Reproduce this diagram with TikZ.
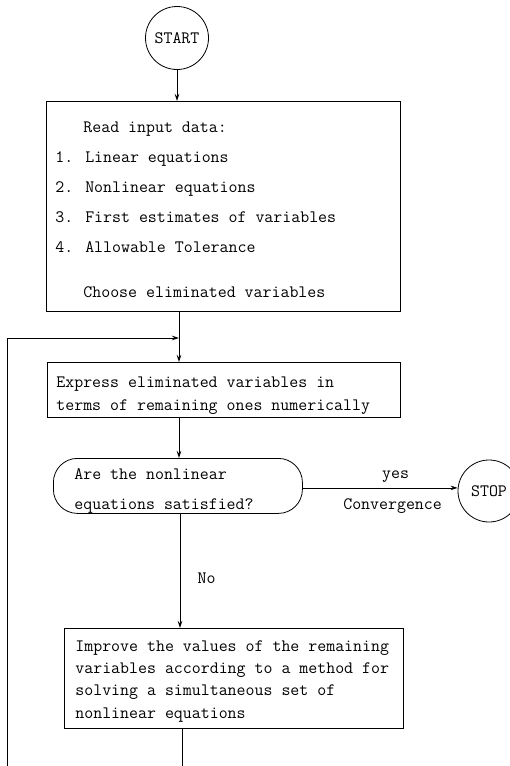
\documentclass[tikz,border=0pt]{standalone}
\usetikzlibrary{arrows.meta}
\tikzset{
    box/.style={draw, rectangle, anchor=north west, inner sep=0pt},
    txt/.style={anchor=west, align=left, inner sep=0pt, yshift=-3pt},
    term/.style={draw, circle, minimum size=63pt, inner sep=0pt},
    flow/.style={-{Stealth[length=7pt, width=4.5pt]}},
}
\begin{document}
\begin{tikzpicture}[x=1pt, y=-1pt, line width=0.8pt, font=\ttfamily\fontsize{17.4}{30}\selectfont]
    \useasboundingbox (0,0) rectangle (510,766);
    \node[term] (start) at (177,38) {START};
    \node[box, minimum width=354pt, minimum height=210pt] (read) at (46,101) {};
    \node[txt] (readtxt) at ([xshift=9pt]read.west)
        {\hspace*{28pt}Read input data:\\
         1. Linear equations\\
         2. Nonlinear equations\\
         3. First estimates of variables\\
         4. Allowable Tolerance\\[15pt]
         \hspace*{28pt}Choose eliminated variables};
    \coordinate (join) at (179,338);
    \node[box, minimum width=353pt, minimum height=55pt] (express) at (47,362) {};
    \node[txt, yshift=-3pt, font=\ttfamily\fontsize{17.4}{23}\selectfont] (expresstxt) at ([xshift=9pt]express.west)
        {Express eliminated variables in\\terms of remaining ones numerically};
    \node[box, rounded corners=24pt, minimum width=249pt, minimum height=55pt] (decide) at (53,458) {};
    \node[txt, yshift=-2pt] (decidetxt) at ([xshift=21pt]decide.west)
        {Are the nonlinear\\equations satisfied?};
    \node[term, minimum size=62pt] (stop) at (489,491) {STOP};
    \node[box, minimum width=339pt, minimum height=100pt] (improve) at (64,628) {};
    \node[txt, font=\ttfamily\fontsize{17.4}{22.3}\selectfont] (improvetxt) at ([xshift=11pt]improve.west)
        {Improve the values of the remaining\\variables according to a method for\\solving a simultaneous set of\\nonlinear equations};
    \coordinate (loop) at (7,790);
    \draw[flow] (start.south) -- (start.south |- read.north);
    \draw[flow] (read.south -| join) -- (join |- express.north);
    \draw[flow] (express.south -| join) -- (join |- decide.north);
    \draw[flow] ([yshift=-2pt]decide.east) -- node[above=2pt, pos=0.6] {yes} node[below=7pt, pos=0.58] {Convergence} ([yshift=-2pt]decide.east -| stop.west);
    \draw[flow] (decide.south -| 180,0) -- node[right=14pt, pos=0.56] {No} (improve.north -| 180,0);
    \draw[flow] (improve.south -| 182,0) -- (loop -| 182,0) -- (loop) |- (join);
\end{tikzpicture}
\end{document}
